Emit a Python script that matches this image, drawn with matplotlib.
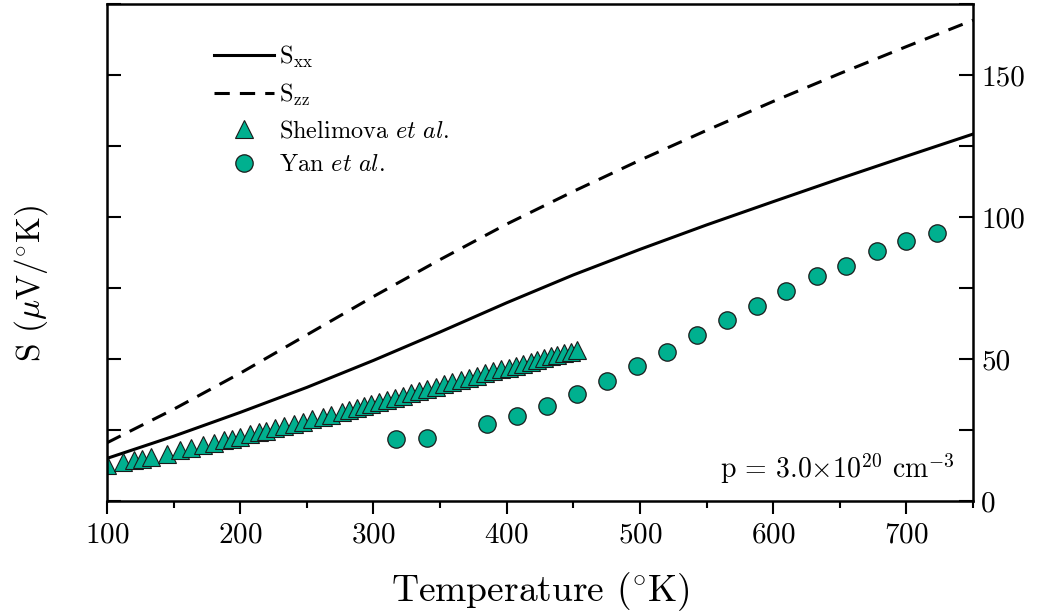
import matplotlib
matplotlib.use('Agg')
import matplotlib.pyplot as plt
from matplotlib.ticker import MultipleLocator, FuncFormatter

plt.rcParams['font.family'] = ['cmr10', 'DejaVu Serif']
plt.rcParams['mathtext.fontset'] = 'cm'
plt.rcParams['axes.formatter.use_mathtext'] = True

# Theory curves
T_line = [100, 150, 200, 250, 300, 350, 400, 450, 500, 550, 600, 650, 700, 750]
S_xx = [15.0, 22.8, 31.2, 40.0, 49.5, 59.5, 69.8, 79.6, 88.6, 97.2, 105.4, 113.5, 121.4, 129.2]
S_zz = [20.5, 32.3, 45.0, 58.5, 72.0, 85.0, 97.5, 109.0, 120.0, 130.5, 140.7, 150.5, 160.0, 169.3]

# Shelimova et al.
T_shel = [100, 112, 120, 126, 133, 145, 155, 163, 172, 180, 188, 194, 200, 207, 214, 219,
          226, 233, 240, 247, 254, 262, 268, 276, 282, 288, 293, 298, 304, 310, 316, 322,
          328, 334, 340, 347, 353, 359, 366, 372, 378, 384, 390, 396, 402, 407, 412, 418,
          423, 428, 433, 438, 443, 448, 453]
S_shel = [12.5, 13.6, 14.4, 14.9, 15.6, 16.7, 17.8, 18.6, 19.6, 20.5, 21.4, 22.0, 22.7, 23.5,
          24.2, 24.8, 25.6, 26.3, 27.1, 27.9, 28.7, 29.7, 30.4, 31.4, 32.1, 32.8, 33.4, 34.1,
          34.8, 35.6, 36.3, 37.1, 37.9, 38.6, 39.4, 40.3, 41.1, 41.8, 42.6, 43.4, 44.1, 44.9,
          45.6, 46.3, 47.0, 47.7, 48.3, 49.0, 49.7, 50.3, 50.9, 51.5, 52.0, 52.5, 53.0]

# Yan et al.
T_yan = [317, 340, 385, 408, 430, 453, 475, 498, 520, 543, 565, 588, 610, 633, 655, 678, 700, 723]
S_yan = [21.8, 22.1, 27.1, 29.9, 33.4, 37.6, 42.2, 47.4, 52.4, 58.3, 63.6, 68.5, 74.1, 79.1,
         82.9, 87.9, 91.4, 94.5]

teal = '#00b08f'

fig = plt.figure(figsize=(10.38, 6.15), dpi=100)
ax = fig.add_axes([0.1031, 0.1854, 0.8343, 0.8081])

ax.plot(T_line, S_xx, color='black', lw=2.2, label=r'S$_{\mathrm{xx}}$')
ax.plot(T_line, S_zz, color='black', lw=2.2, dashes=(5, 3.3), label=r'S$_{\mathrm{zz}}$')
ax.plot(T_shel, S_shel, ls='none', marker='^', ms=13, mfc=teal, mec='#1a1a1a', mew=0.8,
        label=r'Shelimova $\mathit{et\ al.}$')
ax.plot(T_yan, S_yan, ls='none', marker='o', ms=12.5, mfc=teal, mec='#1a1a1a', mew=0.9,
        label=r'Yan $\mathit{et\ al.}$')

ax.set_xlim(100, 750)
ax.set_ylim(0, 175)

ax.xaxis.set_major_locator(MultipleLocator(100))
ax.xaxis.set_minor_locator(MultipleLocator(50))
ax.yaxis.set_major_locator(MultipleLocator(25))
ax.yaxis.set_major_formatter(FuncFormatter(lambda v, p: f'{int(v)}' if v % 50 == 0 else ''))

for s in ax.spines.values():
    s.set_linewidth(1.8)

ax.tick_params(axis='x', which='major', direction='out', length=9.5, width=1.5,
               labelsize=21, pad=6, top=False)
ax.tick_params(axis='x', which='minor', direction='out', length=5, width=1.5, top=False)
ax.tick_params(axis='y', which='major', direction='in', length=10, width=1.5,
               left=True, right=True, labelleft=False, labelright=True, labelsize=21, pad=6)

ax.set_xlabel(r'Temperature ($^{\circ}$K)', fontsize=27)
ax.xaxis.set_label_coords(0.5, -0.14)
ax.set_ylabel(r'S ($\mu$V/$^{\circ}$K)', fontsize=24)
ax.yaxis.set_label_coords(-0.066, 0.437)

ax.text(0.979, 0.046, r'p = 3.0$\times$10$^{20}$ cm$^{-3}$', transform=ax.transAxes,
        ha='right', va='baseline', fontsize=20)

leg = ax.legend(loc='upper left', bbox_to_anchor=(0.11, 0.945), frameon=False,
                fontsize=17.5, handlelength=2.47, handletextpad=0.2, labelspacing=0.5,
                borderpad=0, numpoints=1)

fig.savefig('out.png', dpi=100)
